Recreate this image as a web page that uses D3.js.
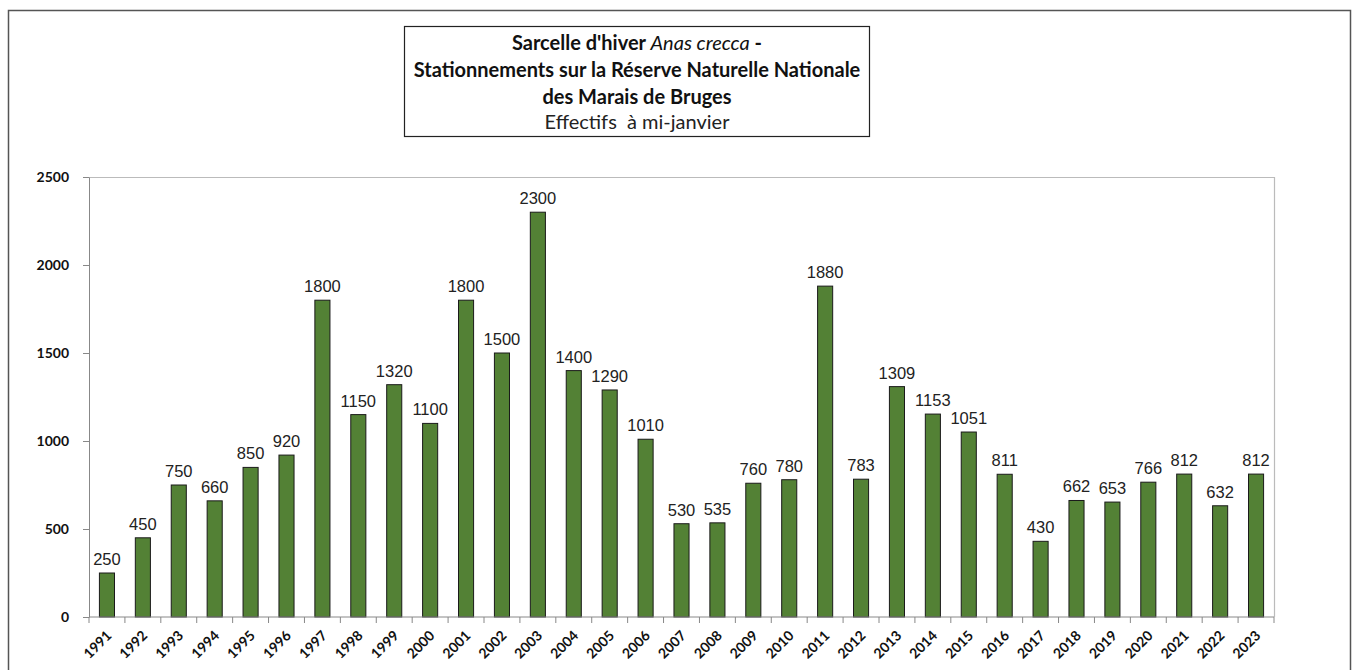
<!DOCTYPE html>
<html>
<head>
<meta charset="utf-8">
<script src="https://cdn.jsdelivr.net/npm/d3@7"></script>
<style>
  body { margin: 0; background: #fff; }
  svg { display: block; }
</style>
</head>
<body>
<svg id="chart" width="1359" height="670"></svg>
<script>
'use strict'

// years and mid-january counts
const years = [1991, 1992, 1993, 1994, 1995, 1996, 1997, 1998, 1999, 2000,
  2001, 2002, 2003, 2004, 2005, 2006, 2007, 2008, 2009, 2010,
  2011, 2012, 2013, 2014, 2015, 2016, 2017, 2018, 2019, 2020,
  2021, 2022, 2023]
const counts = [250, 450, 750, 660, 850, 920, 1800, 1150, 1320, 1100,
  1800, 1500, 2300, 1400, 1290, 1010, 530, 535, 760, 780,
  1880, 783, 1309, 1153, 1051, 811, 430, 662, 653, 766,
  812, 632, 812]
const yTicks = [0, 500, 1000, 1500, 2000, 2500]

const titleFont = 'Lato, "Open Sans", sans-serif'
const data = years.map((y, i) => ({year: y, value: counts[i]}))

const svg = d3.select('#chart')

// outer frame
svg.append('rect')
  .attr('x', 8.5).attr('y', 10.5)
  .attr('width', 1342).attr('height', 700)
  .attr('fill', 'none').attr('stroke', '#555').attr('stroke-width', 1.5)

// title box
const tb = svg.append('g')
tb.append('rect')
  .attr('x', 404.5).attr('y', 26.5)
  .attr('width', 465).attr('height', 110)
  .attr('fill', '#fff').attr('stroke', '#222').attr('stroke-width', 1.2)
const t1 = tb.append('text')
  .attr('x', 637).attr('y', 50)
  .attr('text-anchor', 'middle')
  .style('font-family', titleFont).style('font-size', '20px')
  .attr('fill', '#111')
t1.append('tspan').attr('font-weight', 'bold').text("Sarcelle d'hiver ")
t1.append('tspan').attr('font-style', 'italic').text('Anas crecca')
t1.append('tspan').attr('font-weight', 'bold').text(' -')
tb.append('text')
  .attr('x', 637).attr('y', 77)
  .attr('text-anchor', 'middle')
  .style('font-family', titleFont).style('font-size', '20px')
  .attr('font-weight', 'bold').attr('fill', '#111')
  .text('Stationnements sur la Réserve Naturelle Nationale')
tb.append('text')
  .attr('x', 637).attr('y', 104)
  .attr('text-anchor', 'middle')
  .style('font-family', titleFont).style('font-size', '20px')
  .attr('font-weight', 'bold').attr('fill', '#111')
  .text('des Marais de Bruges')
tb.append('text')
  .attr('x', 637).attr('y', 129)
  .attr('text-anchor', 'middle')
  .style('font-family', titleFont).style('font-size', '20px')
  .attr('fill', '#222')
  .attr('xml:space', 'preserve')
  .text('Effectifs  à mi-janvier')

// plot area
const margin = {left: 89, top: 177, right: 1274, bottom: 617}
const x = d3.scaleBand()
  .domain(years)
  .range([margin.left, margin.right])
  .paddingInner(0.58).paddingOuter(0.29)
const xb = d3.scaleBand().domain(years).range([margin.left, margin.right])
const y = d3.scaleLinear()
  .domain([0, 2500])
  .range([margin.bottom, margin.top])

// light frame top/right
svg.append('path')
  .attr('d', `M${margin.left},${margin.top + 0.5}H${margin.right + 0.5}V${margin.bottom}`)
  .attr('fill', 'none').attr('stroke', '#bbb').attr('stroke-width', 1.2)

// bars
svg.append('g').selectAll('rect')
  .data(data)
  .join('rect')
  .attr('x', d => x(d.year))
  .attr('y', d => y(d.value))
  .attr('width', x.bandwidth())
  .attr('height', d => y(0) - y(d.value))
  .attr('fill', '#538135')
  .attr('stroke', '#1a1a1a').attr('stroke-width', 1)

// value labels
svg.append('g').selectAll('text')
  .data(data)
  .join('text')
  .attr('x', d => x(d.year) + x.bandwidth() / 2)
  .attr('y', d => y(d.value) - 8)
  .attr('text-anchor', 'middle')
  .style('font-family', 'Arial, "Liberation Sans", sans-serif')
  .style('font-size', '16.5px')
  .attr('fill', '#222')
  .text(d => d.value)

// y axis
const yAxis = svg.append('g')
  .attr('transform', `translate(${margin.left},0)`)
  .call(d3.axisLeft(y).tickValues(yTicks).tickFormat(d3.format('d'))
    .tickSize(6).tickSizeOuter(0).tickPadding(14))
yAxis.select('.domain').attr('stroke', '#888')
yAxis.selectAll('.tick line').attr('stroke', '#888')
yAxis.selectAll('.tick text')
  .style('font-family', titleFont).style('font-size', '14px')
  .attr('font-weight', 'bold').attr('fill', '#111')

// x axis: ticks between categories
const xAxisG = svg.append('g')
  .attr('transform', `translate(0,${margin.bottom})`)
xAxisG.append('line')
  .attr('x1', margin.left).attr('x2', margin.right)
  .attr('stroke', '#888')
xAxisG.selectAll('line.sep')
  .data(years.concat([null]))
  .join('line')
  .attr('class', 'sep')
  .attr('x1', (d, i) => i < years.length ? xb(d) : margin.right)
  .attr('x2', (d, i) => i < years.length ? xb(d) : margin.right)
  .attr('y1', 0).attr('y2', 6)
  .attr('stroke', '#888')
xAxisG.selectAll('text')
  .data(years)
  .join('text')
  .attr('transform', d => `translate(${xb(d) + xb.bandwidth() / 2 + 2},${16}) rotate(-45)`)
  .attr('text-anchor', 'end')
  .attr('dy', '0.35em')
  .style('font-family', titleFont).style('font-size', '14px')
  .attr('font-weight', 'bold').attr('fill', '#111')
  .text(d => d)
</script>
</body>
</html>
